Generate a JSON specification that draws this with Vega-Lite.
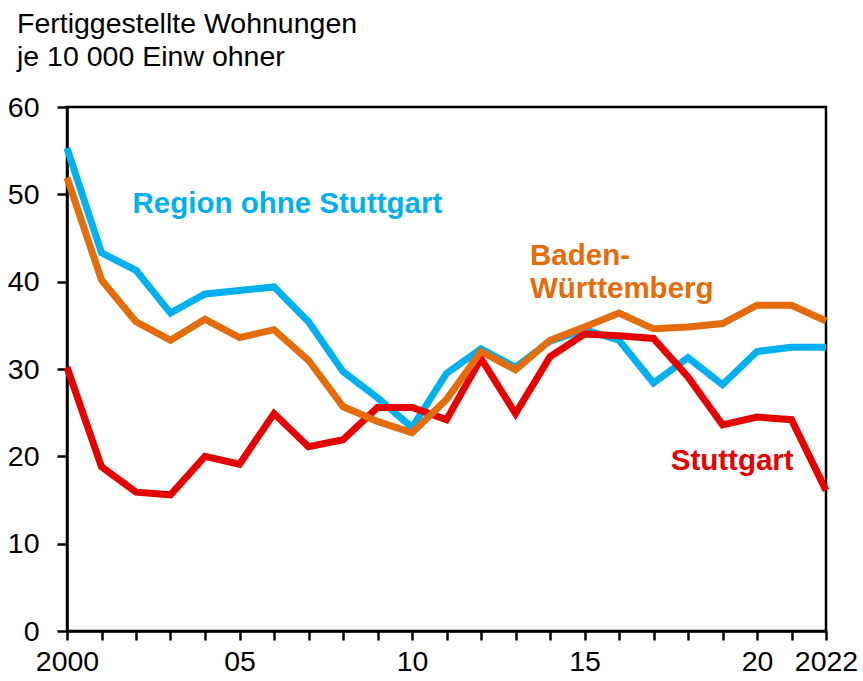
{
  "$schema": "https://vega.github.io/schema/vega-lite/v6.json",
  "autosize": "none",
  "width": 759,
  "height": 524,
  "padding": {"left": 67, "top": 107, "right": 37, "bottom": 50},
  "background": "white",
  "title": {
    "text": ["Fertiggestellte Wohnungen", "je 10 000 Einw ohner"],
    "anchor": "start",
    "frame": "group",
    "dx": -50,
    "offset": 22,
    "font": "Liberation Sans",
    "fontSize": 28.5,
    "fontWeight": "normal",
    "color": "black",
    "lineHeight": 33
  },
  "config": {
    "view": {"stroke": "black", "strokeWidth": 2.5},
    "axis": {
      "domainColor": "black",
      "domainWidth": 2.5,
      "tickColor": "black",
      "tickWidth": 2.5,
      "labelFont": "Liberation Sans",
      "labelFontSize": 28.5,
      "labelColor": "black",
      "grid": false,
      "title": null
    }
  },
  "datasets": {
    "lines": [
      {"series": "Region ohne Stuttgart", "year": 2000, "value": 55.3},
      {"series": "Region ohne Stuttgart", "year": 2001, "value": 43.3},
      {"series": "Region ohne Stuttgart", "year": 2002, "value": 41.3},
      {"series": "Region ohne Stuttgart", "year": 2003, "value": 36.4},
      {"series": "Region ohne Stuttgart", "year": 2004, "value": 38.6},
      {"series": "Region ohne Stuttgart", "year": 2005, "value": 39.0},
      {"series": "Region ohne Stuttgart", "year": 2006, "value": 39.4},
      {"series": "Region ohne Stuttgart", "year": 2007, "value": 35.4},
      {"series": "Region ohne Stuttgart", "year": 2008, "value": 29.7},
      {"series": "Region ohne Stuttgart", "year": 2009, "value": 26.7},
      {"series": "Region ohne Stuttgart", "year": 2010, "value": 23.3},
      {"series": "Region ohne Stuttgart", "year": 2011, "value": 29.5},
      {"series": "Region ohne Stuttgart", "year": 2012, "value": 32.3},
      {"series": "Region ohne Stuttgart", "year": 2013, "value": 30.2},
      {"series": "Region ohne Stuttgart", "year": 2014, "value": 33.2},
      {"series": "Region ohne Stuttgart", "year": 2015, "value": 34.5},
      {"series": "Region ohne Stuttgart", "year": 2016, "value": 33.3},
      {"series": "Region ohne Stuttgart", "year": 2017, "value": 28.4},
      {"series": "Region ohne Stuttgart", "year": 2018, "value": 31.3},
      {"series": "Region ohne Stuttgart", "year": 2019, "value": 28.2},
      {"series": "Region ohne Stuttgart", "year": 2020, "value": 32.0},
      {"series": "Region ohne Stuttgart", "year": 2021, "value": 32.5},
      {"series": "Region ohne Stuttgart", "year": 2022, "value": 32.5},
      {"series": "Baden-Württemberg", "year": 2000, "value": 51.9},
      {"series": "Baden-Württemberg", "year": 2001, "value": 40.2},
      {"series": "Baden-Württemberg", "year": 2002, "value": 35.4},
      {"series": "Baden-Württemberg", "year": 2003, "value": 33.3},
      {"series": "Baden-Württemberg", "year": 2004, "value": 35.7},
      {"series": "Baden-Württemberg", "year": 2005, "value": 33.6},
      {"series": "Baden-Württemberg", "year": 2006, "value": 34.5},
      {"series": "Baden-Württemberg", "year": 2007, "value": 31.0},
      {"series": "Baden-Württemberg", "year": 2008, "value": 25.7},
      {"series": "Baden-Württemberg", "year": 2009, "value": 24.0},
      {"series": "Baden-Württemberg", "year": 2010, "value": 22.7},
      {"series": "Baden-Württemberg", "year": 2011, "value": 26.5},
      {"series": "Baden-Württemberg", "year": 2012, "value": 32.0},
      {"series": "Baden-Württemberg", "year": 2013, "value": 29.9},
      {"series": "Baden-Württemberg", "year": 2014, "value": 33.3},
      {"series": "Baden-Württemberg", "year": 2015, "value": 34.8},
      {"series": "Baden-Württemberg", "year": 2016, "value": 36.4},
      {"series": "Baden-Württemberg", "year": 2017, "value": 34.6},
      {"series": "Baden-Württemberg", "year": 2018, "value": 34.8},
      {"series": "Baden-Württemberg", "year": 2019, "value": 35.2},
      {"series": "Baden-Württemberg", "year": 2020, "value": 37.3},
      {"series": "Baden-Württemberg", "year": 2021, "value": 37.3},
      {"series": "Baden-Württemberg", "year": 2022, "value": 35.5},
      {"series": "Stuttgart", "year": 2000, "value": 30.2},
      {"series": "Stuttgart", "year": 2001, "value": 18.8},
      {"series": "Stuttgart", "year": 2002, "value": 15.9},
      {"series": "Stuttgart", "year": 2003, "value": 15.6},
      {"series": "Stuttgart", "year": 2004, "value": 20.0},
      {"series": "Stuttgart", "year": 2005, "value": 19.1},
      {"series": "Stuttgart", "year": 2006, "value": 24.9},
      {"series": "Stuttgart", "year": 2007, "value": 21.1},
      {"series": "Stuttgart", "year": 2008, "value": 21.9},
      {"series": "Stuttgart", "year": 2009, "value": 25.6},
      {"series": "Stuttgart", "year": 2010, "value": 25.6},
      {"series": "Stuttgart", "year": 2011, "value": 24.2},
      {"series": "Stuttgart", "year": 2012, "value": 31.2},
      {"series": "Stuttgart", "year": 2013, "value": 24.9},
      {"series": "Stuttgart", "year": 2014, "value": 31.4},
      {"series": "Stuttgart", "year": 2015, "value": 34.0},
      {"series": "Stuttgart", "year": 2016, "value": 33.8},
      {"series": "Stuttgart", "year": 2017, "value": 33.5},
      {"series": "Stuttgart", "year": 2018, "value": 29.1},
      {"series": "Stuttgart", "year": 2019, "value": 23.6},
      {"series": "Stuttgart", "year": 2020, "value": 24.5},
      {"series": "Stuttgart", "year": 2021, "value": 24.2},
      {"series": "Stuttgart", "year": 2022, "value": 16.1}
    ],
    "labels": [
      {"series": "Region ohne Stuttgart", "label": "Region ohne Stuttgart", "year": 2001.9, "value": 48.9},
      {"series": "Baden-Württemberg", "label": "Baden-", "year": 2013.42, "value": 42.9},
      {"series": "Baden-Württemberg", "label": "Württemberg", "year": 2013.42, "value": 39.2},
      {"series": "Stuttgart", "label": "Stuttgart", "year": 2017.5, "value": 19.5}
    ]
  },
  "encoding": {
    "x": {
      "field": "year",
      "type": "quantitative",
      "scale": {"domain": [2000, 2022], "nice": false, "zero": false},
      "axis": {
        "values": [2000, 2001, 2002, 2003, 2004, 2005, 2006, 2007, 2008, 2009, 2010, 2011, 2012, 2013, 2014, 2015, 2016, 2017, 2018, 2019, 2020, 2021, 2022],
        "labelExpr": "datum.value == 2000 || datum.value == 2022 ? toString(datum.value) : (datum.value % 5 == 0 ? slice(toString(datum.value), 2) : '')",
        "labelOverlap": false,
        "labelFlush": false,
        "tickSize": 9,
        "labelPadding": 7
      }
    },
    "y": {
      "field": "value",
      "type": "quantitative",
      "scale": {"domain": [0, 60], "nice": false},
      "axis": {
        "values": [0, 10, 20, 30, 40, 50, 60],
        "tickSize": 10,
        "labelPadding": 18
      }
    }
  },
  "layer": [
    {
      "data": {"name": "lines"},
      "transform": [{"filter": "datum.series == 'Region ohne Stuttgart'"}],
      "mark": {"type": "line", "color": "#00B0F0", "strokeWidth": 7}
    },
    {
      "data": {"name": "lines"},
      "transform": [{"filter": "datum.series == 'Stuttgart'"}],
      "mark": {"type": "line", "color": "#E60000", "strokeWidth": 7}
    },
    {
      "data": {"name": "lines"},
      "transform": [{"filter": "datum.series == 'Baden-Württemberg'"}],
      "mark": {"type": "line", "color": "#E46C0A", "strokeWidth": 7}
    },
    {
      "data": {"name": "labels"},
      "mark": {"type": "text", "align": "left", "baseline": "middle", "font": "Liberation Sans", "fontWeight": "bold", "fontSize": 29.5},
      "encoding": {
        "text": {"field": "label"},
        "color": {
          "field": "series",
          "type": "nominal",
          "scale": {"domain": ["Region ohne Stuttgart", "Baden-Württemberg", "Stuttgart"], "range": ["#00B0F0", "#E46C0A", "#E60000"]},
          "legend": null
        }
      }
    }
  ]
}
